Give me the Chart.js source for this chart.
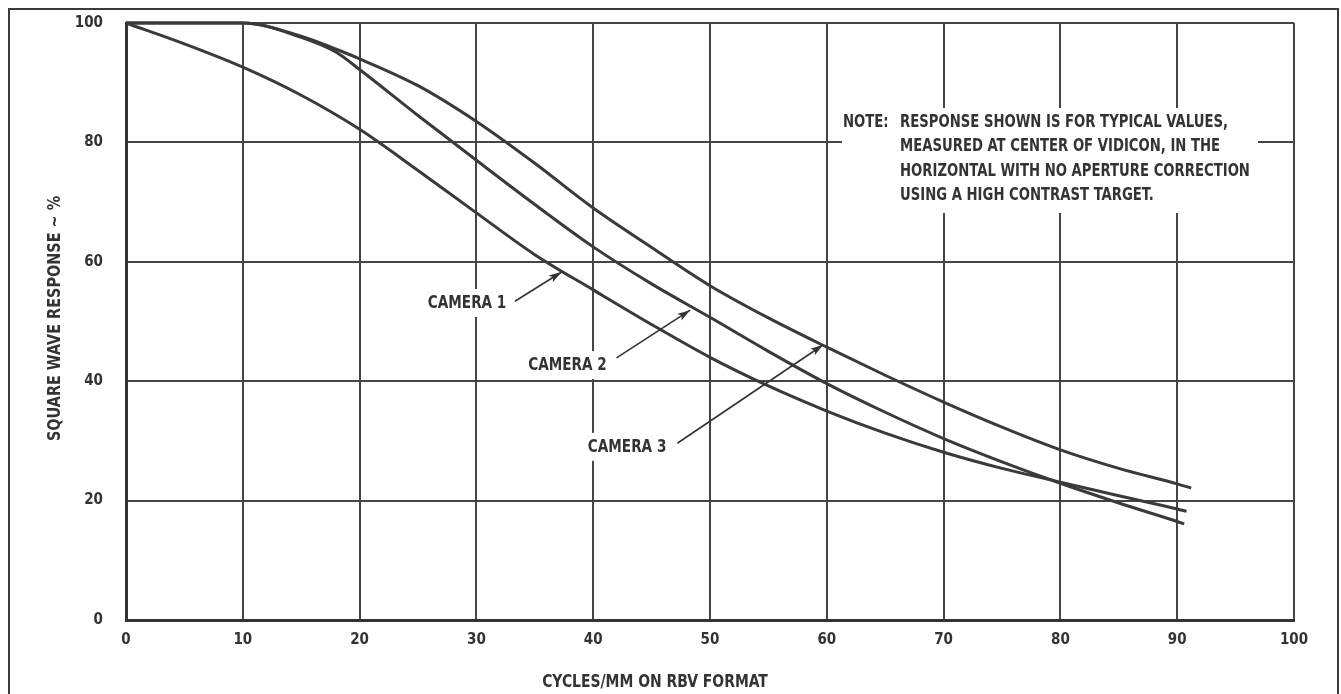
<!DOCTYPE html>
<html>
<head>
<meta charset="utf-8">
<title>Square wave response</title>
<script src="https://cdn.jsdelivr.net/npm/chart.js@4/dist/chart.umd.min.js"></script>
<style>
  html, body { margin: 0; padding: 0; background: #fff; }
  canvas { display: block; }
</style>
</head>
<body>
<canvas id="grafico" width="1341" height="694"></canvas>
<script>
// valores (ciclos/mm vs respuesta %)
const camara1X = [0, 5, 10, 15, 20, 25, 30, 35, 40, 45, 50, 55, 60, 65, 70, 75, 80, 85, 90, 90.8];
const camara1Y = [100, 96.5, 92.6, 87.9, 82.2, 75.3, 68.2, 61.2, 55.3, 49.5, 44, 39.2, 35, 31.3, 28.1, 25.4, 23.1, 20.8, 18.6, 18.2];

const camara2X = [0, 5, 10, 15, 18, 20, 25, 30, 35, 40, 45, 50, 55, 60, 65, 70, 75, 80, 85, 90, 90.6];
const camara2Y = [100, 100, 100, 97.6, 95.1, 92.2, 84.5, 77, 69.6, 62.5, 56.3, 50.7, 45, 39.6, 34.8, 30.4, 26.5, 22.9, 19.6, 16.5, 16.1];

const camara3X = [0, 5, 10, 15, 18, 20, 25, 30, 35, 40, 45, 50, 55, 60, 65, 70, 75, 80, 85, 90, 91.2];
const camara3Y = [100, 100, 100, 97.8, 95.6, 94, 89.5, 83.5, 76.5, 69, 62.4, 56, 50.6, 45.7, 41, 36.5, 32.3, 28.5, 25.4, 22.8, 22.1];

const ticksX = [0, 10, 20, 30, 40, 50, 60, 70, 80, 90, 100];
const ticksY = [0, 20, 40, 60, 80, 100];

const nombres = ["CAMERA 1", "CAMERA 2", "CAMERA 3"];
const nota = [
  "RESPONSE SHOWN IS FOR TYPICAL VALUES,",
  "MEASURED AT CENTER OF VIDICON, IN THE",
  "HORIZONTAL WITH NO APERTURE CORRECTION",
  "USING A HIGH CONTRAST TARGET."
];
const tituloX = "CYCLES/MM ON RBV FORMAT";
const tituloY = "SQUARE WAVE RESPONSE ~ %";

const FUENTE = "'Liberation Sans Narrow', 'DejaVu Sans Condensed', sans-serif";
const TINTA = "#333333";
const ANGOSTO = 0.84; // la letra original es mas comprimida

function armarPuntos(xs, ys) {
  return xs.map((x, i) => ({ x: x, y: ys[i] }));
}

// etiquetas con flecha: texto en (tx,ty), linea desde (lx,ly) hasta la punta (px,py), en unidades de datos
const flechas = [
  { texto: nombres[0], tx: 29.2, ty: 53.1, lx: 33.3, ly: 53.4, px: 37.3, py: 58.3 },
  { texto: nombres[1], tx: 37.8, ty: 42.7, lx: 42.0, ly: 43.9, px: 48.3, py: 51.9 },
  { texto: nombres[2], tx: 42.9, ty: 29.0, lx: 47.2, ly: 29.6, px: 59.7, py: 46.1 }
];

// texto comprimido horizontalmente
function textoAngosto(ctx, texto, x, y, factor) {
  ctx.save();
  ctx.translate(x, y);
  ctx.scale(factor, 1);
  ctx.fillText(texto, 0, 0);
  ctx.restore();
}

function dibujarPunta(ctx, x0, y0, x1, y1) {
  const ang = Math.atan2(y1 - y0, x1 - x0);
  ctx.save();
  ctx.translate(x1, y1);
  ctx.rotate(ang);
  ctx.beginPath();
  ctx.moveTo(0, 0);
  ctx.lineTo(-13, -4);
  ctx.lineTo(-10, 0);
  ctx.lineTo(-13, 4);
  ctx.closePath();
  ctx.fill();
  ctx.restore();
}

const decoraciones = {
  id: "decoraciones",
  beforeDatasetsDraw(chart) {
    const ctx = chart.ctx;
    const sx = chart.scales.x;
    const sy = chart.scales.y;
    ctx.save();
    ctx.fillStyle = "#ffffff";
    // caja blanca de la nota (corta la grilla)
    ctx.fillRect(842, 108, 416, 105);
    // fondos blancos de las etiquetas
    ctx.font = "bold 18px " + FUENTE;
    flechas.forEach((f) => {
      const w = ctx.measureText(f.texto).width * ANGOSTO;
      const cx = sx.getPixelForValue(f.tx);
      const cy = sy.getPixelForValue(f.ty);
      ctx.fillRect(cx - w / 2 - 6, cy - 14, w + 12, 28);
    });
    ctx.restore();
  },
  afterDraw(chart) {
    const ctx = chart.ctx;
    const sx = chart.scales.x;
    const sy = chart.scales.y;
    const area = chart.chartArea;
    ctx.save();
    ctx.fillStyle = TINTA;
    ctx.strokeStyle = TINTA;

    // etiquetas de camaras
    ctx.font = "bold 18px " + FUENTE;
    ctx.textAlign = "center";
    ctx.textBaseline = "middle";
    flechas.forEach((f) => {
      const cx = sx.getPixelForValue(f.tx);
      const cy = sy.getPixelForValue(f.ty);
      textoAngosto(ctx, f.texto, cx, cy, ANGOSTO);
      const x0 = sx.getPixelForValue(f.lx);
      const y0 = sy.getPixelForValue(f.ly);
      const x1 = sx.getPixelForValue(f.px);
      const y1 = sy.getPixelForValue(f.py);
      ctx.lineWidth = 1.6;
      ctx.beginPath();
      ctx.moveTo(x0, y0);
      ctx.lineTo(x1, y1);
      ctx.stroke();
      dibujarPunta(ctx, x0, y0, x1, y1);
    });

    // nota
    ctx.font = "bold 17.5px " + FUENTE;
    ctx.textAlign = "left";
    textoAngosto(ctx, "NOTE:", 843, 122, ANGOSTO);
    nota.forEach((linea, i) => {
      textoAngosto(ctx, linea, 900, 122 + i * 24.5, ANGOSTO);
    });

    // titulos de ejes
    ctx.font = "bold 18px " + FUENTE;
    ctx.textAlign = "center";
    textoAngosto(ctx, tituloX, 655, 682, 0.86);
    ctx.save();
    ctx.translate(55, (area.top + area.bottom) / 2 - 3);
    ctx.rotate(-Math.PI / 2);
    textoAngosto(ctx, tituloY, 0, 0, 0.89);
    ctx.restore();

    // marco exterior
    ctx.lineWidth = 2;
    ctx.strokeStyle = "#3a3a3a";
    ctx.strokeRect(9, 9, 1329, 720);
    ctx.restore();
  }
};

const config = {
  type: "line",
  data: {
    datasets: [
      { label: nombres[0], data: armarPuntos(camara1X, camara1Y) },
      { label: nombres[1], data: armarPuntos(camara2X, camara2Y) },
      { label: nombres[2], data: armarPuntos(camara3X, camara3Y) }
    ].map((d) => Object.assign(d, {
      borderColor: "#3a3a3a",
      borderWidth: 3,
      pointRadius: 0,
      fill: false,
      clip: false,
      cubicInterpolationMode: "monotone"
    }))
  },
  options: {
    responsive: false,
    animation: false,
    devicePixelRatio: 1,
    layout: { padding: { top: 23, right: 47, left: 0, bottom: 0 } },
    plugins: {
      legend: { display: false },
      tooltip: { enabled: false }
    },
    scales: {
      x: {
        type: "linear",
        min: 0,
        max: 100,
        afterFit(scale) { scale.height = 74; },
        afterBuildTicks(scale) { scale.ticks = ticksX.map((v) => ({ value: v })); },
        grid: { color: "#454545", lineWidth: 2, drawTicks: false },
        border: { display: true, color: "#333", width: 3 },
        ticks: {
          padding: 11,
          color: TINTA,
          maxRotation: 0,
          font: { family: FUENTE, size: 15, weight: "bold" }
        }
      },
      y: {
        min: 0,
        max: 100,
        afterFit(scale) {
          scale.width = 126;
          scale.paddingTop = 0;
          scale.paddingBottom = 0;
        },
        afterBuildTicks(scale) { scale.ticks = ticksY.map((v) => ({ value: v })); },
        grid: { color: "#454545", lineWidth: 2, drawTicks: false },
        border: { display: true, color: "#333", width: 3 },
        ticks: {
          padding: 23,
          color: TINTA,
          font: { family: FUENTE, size: 15, weight: "bold" }
        }
      }
    }
  },
  plugins: [decoraciones]
};

const chartDOM = document.getElementById("grafico");
const myChart = new Chart(chartDOM, config);
</script>
</body>
</html>
